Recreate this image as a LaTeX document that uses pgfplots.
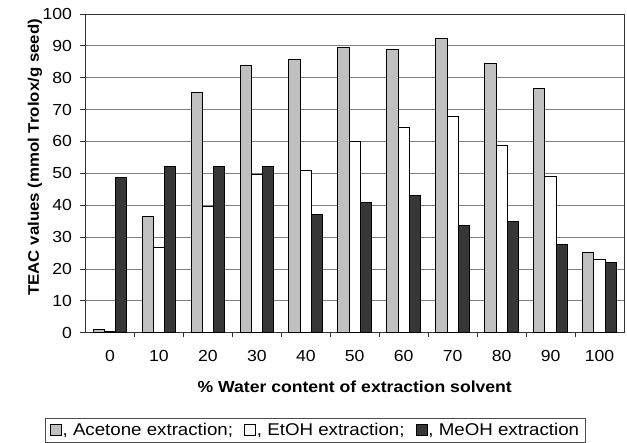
\documentclass[border=0pt]{standalone}
\usepackage{pgfplots}
\pgfplotsset{compat=1.18}
\usepackage{fontspec}
\setmainfont[FakeStretch=1.1]{Liberation Sans}
\definecolor{acet}{RGB}{192,192,192}
\definecolor{meoh}{RGB}{55,55,55}
\begin{document}
\begin{tikzpicture}
\begin{axis}[
  scale only axis, width=538.5bp, height=318.7bp,
  at={(0,0)}, anchor=south west,
  xmin=-0.5, xmax=10.5, ymin=0, ymax=100,
  ybar=0pt, bar width=11.2bp,
  xtick={0,...,10},
  xticklabels={0,10,20,30,40,50,60,70,80,90,100},
  minor xtick={0.5,1.5,...,9.5},
  every major x tick/.append style={draw=none},
  minor tick length=4bp, major tick length=5bp,
  tick align=outside,
  xtick pos=left, ytick pos=left,
  ytick={0,10,...,100},
  ymajorgrids,
  grid style={black!50, line width=0.8bp},
  axis line style={black!80, line width=0.9bp},
  tick style={black!80, line width=0.8bp},
  /pgf/number format/assume math mode=true,
  tick label style={font=\fontsize{16bp}{18bp}\selectfont},
  xticklabel style={yshift=-9bp},
  yticklabel style={xshift=-5bp},
  xlabel={\bfseries\% Water content of extraction solvent},
  ylabel={\bfseries TEAC values (mmol Trolox/g seed)},
  xlabel style={font=\fontsize{16bp}{18bp}\selectfont, at={(rel axis cs:0.5,0)}, anchor=center, yshift=-54.5bp},
  ylabel style={font=\fontsize{15.3bp}{18bp}\selectfont, at={(rel axis cs:0,0.55)}, anchor=center, yshift=50.5bp},
  legend columns=3,
  legend style={at={(rel axis cs:0.427,-0.2677)}, anchor=north,
    draw=black!70, line width=0.8bp, font=\fontsize{17bp}{19bp}\selectfont,
    inner xsep=4.5bp, inner ysep=3bp,
    /tikz/every even column/.append style={column sep=9bp}},
  legend image code/.code={\draw[#1, line width=0.9bp] (0bp,-5.5bp) rectangle (11bp,5.5bp);},
]
\addplot[fill=acet, draw=black, line width=1bp] coordinates {
 (0,0.9) (1,36.5) (2,75.5) (3,83.7) (4,85.7) (5,89.5) (6,89.0) (7,92.3) (8,84.6) (9,76.7) (10,25.1)};
\addplot[fill=white, draw=black, line width=1bp] coordinates {
 (0,0.5) (1,26.8) (2,39.6) (3,49.5) (4,50.9) (5,59.9) (6,64.5) (7,67.7) (8,58.6) (9,49.1) (10,22.9)};
\addplot[fill=meoh, draw=black, line width=1bp] coordinates {
 (0,48.8) (1,52.3) (2,52.3) (3,52.1) (4,37.0) (5,40.7) (6,43.0) (7,33.7) (8,34.9) (9,27.6) (10,21.9)};
\legend{{\hspace{-1bp}, Acetone extraction;},{\hspace{-1bp}, EtOH extraction;},{\hspace{-1bp}, MeOH extraction}}
\end{axis}
\pgfresetboundingbox
\path[use as bounding box] (-85.5bp,-110.3bp) rectangle (541.5bp,332.7bp);
\end{tikzpicture}
\end{document}
